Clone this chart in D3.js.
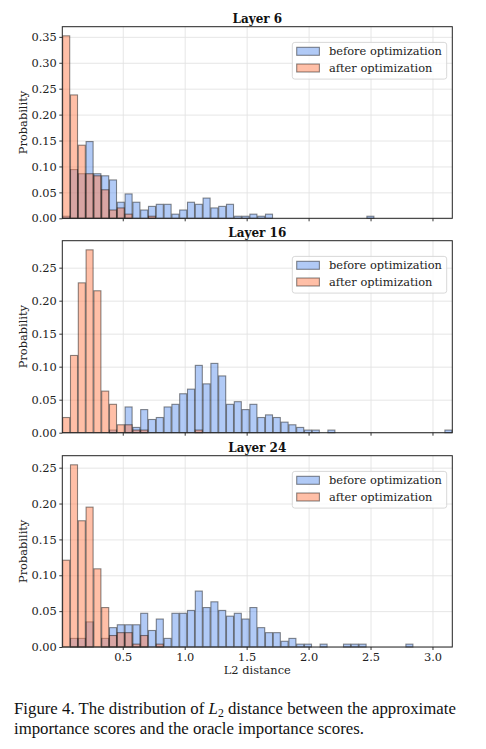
<!DOCTYPE html>
<html>
<head>
<meta charset="utf-8">
<script src="https://cdn.jsdelivr.net/npm/d3@7"></script>
<style>
  html, body { margin: 0; padding: 0; background: #fff; }
  svg { display: block; }
</style>
</head>
<body>
<svg id="chart" width="486" height="749"></svg>
<script>
// ---------- DATA ----------
const binMin = 0.012;
const binMax = 3.16;
const nBins = 50;

const layerTitles = ["Layer 6", "Layer 16", "Layer 24"];
const seriesNames = ["before optimization", "after optimization"];

const layer6Before = [0.004,0.094,0.086,0.148,0.086,0.082,0.074,0.031,0.047,0.031,
                      0.016,0.023,0.027,0.027,0.008,0.016,0.031,0.027,0.039,0.020,
                      0.023,0.027,0.004,0.004,0.008,0.004,0.008,0,0,0,
                      0,0,0,0,0,0,0,0,0,0.004,
                      0,0,0,0,0,0,0,0,0,0];
const layer6After  = [0.352,0.238,0.141,0.086,0.082,0.055,0.016,0.020,0.008,0,
                      0,0.004,0,0,0,0,0,0,0,0,
                      0,0,0,0,0,0,0,0,0,0,
                      0,0,0,0,0,0,0,0,0,0,
                      0,0,0,0,0,0,0,0,0,0];
const layer16Before = [0,0,0,0,0,0,0.004,0,0.039,0.008,
                       0.035,0.020,0.023,0.039,0.043,0.059,0.066,0.102,0.074,0.105,
                       0.086,0.043,0.047,0.035,0.043,0.023,0.027,0.023,0.016,0.012,
                       0.008,0.004,0.004,0,0.004,0,0,0,0,0,
                       0,0,0,0,0,0,0,0,0,0.004];
const layer16After  = [0.023,0.117,0.227,0.277,0.215,0.063,0.043,0.012,0.012,0.004,
                       0.004,0,0,0,0,0,0,0.004,0,0,
                       0,0,0,0,0,0,0,0,0,0,
                       0,0,0,0,0,0,0,0,0,0,
                       0,0,0,0,0,0,0,0,0,0];
const layer24Before = [0,0.012,0.012,0.035,0,0.012,0.027,0.031,0.031,0.031,
                       0.047,0.023,0.039,0.012,0.047,0.047,0.051,0.078,0.055,0.063,
                       0.051,0.043,0.047,0.039,0.055,0.027,0.020,0.020,0.008,0.012,
                       0.004,0.004,0,0.004,0,0,0.004,0.004,0.004,0,
                       0,0,0,0,0.004,0,0,0,0,0];
const layer24After  = [0.121,0.254,0.176,0.195,0.109,0.055,0.016,0.020,0.020,0.004,
                       0.016,0,0.004,0,0,0,0,0,0,0,
                       0,0,0,0,0,0,0,0,0,0,
                       0,0,0,0,0,0,0,0,0,0,
                       0,0,0,0,0,0,0,0,0,0];

const yTicks = [[0,0.05,0.10,0.15,0.20,0.25,0.30,0.35],
                [0,0.05,0.10,0.15,0.20,0.25],
                [0,0.05,0.10,0.15,0.20,0.25]];
const xTicks = [0.5,1.0,1.5,2.0,2.5,3.0];

// ---------- LAYOUT ----------
const panels = [
  {title: layerTitles[0], before: layer6Before,  after: layer6After,  top: 26.7,  bottom: 218.3, yt: yTicks[0], showX: false},
  {title: layerTitles[1], before: layer16Before, after: layer16After, top: 240.7, bottom: 432.7, yt: yTicks[1], showX: false},
  {title: layerTitles[2], before: layer24Before, after: layer24After, top: 455.7, bottom: 647.0, yt: yTicks[2], showX: true}
];
const left = 62.3, right = 452.3;
const serif = "'DejaVu Serif', serif";
const fs = 11.4;
const colBefore = "cornflowerblue";
const colAfter = "coral";

const svg = d3.select("#chart");
const x = d3.scaleLinear().domain([binMin, binMax]).range([left, right]);
const binW = (binMax - binMin) / nBins;
const rwidth = 0.9;

panels.forEach((p) => {
  const ymax = d3.max(p.before.concat(p.after)) * 1.05;
  const y = d3.scaleLinear().domain([0, ymax]).range([p.bottom, p.top]);
  const g = svg.append("g");

  // grid
  g.append("g").attr("transform", `translate(0,${p.bottom})`)
    .call(d3.axisBottom(x).tickValues(xTicks).tickSize(-(p.bottom - p.top)).tickFormat(""))
    .call(s => s.select(".domain").remove())
    .call(s => s.selectAll("line").attr("stroke", "#e3e3e3").attr("stroke-width", 0.9));
  g.append("g").attr("transform", `translate(${left},0)`)
    .call(d3.axisLeft(y).tickValues(p.yt).tickSize(-(right - left)).tickFormat(""))
    .call(s => s.select(".domain").remove())
    .call(s => s.selectAll("line").attr("stroke", "#e3e3e3").attr("stroke-width", 0.9));

  // bars
  const drawSeries = (vals, col) => {
    const data = vals.map((v, i) => ({i, v})).filter(d => d.v > 0);
    g.append("g").selectAll("rect").data(data).join("rect")
      .attr("x", d => x(binMin + d.i * binW + binW * (1 - rwidth) / 2))
      .attr("width", d => x(binMin + binW * rwidth) - x(binMin))
      .attr("y", d => y(d.v))
      .attr("height", d => y(0) - y(d.v))
      .attr("fill", col).attr("fill-opacity", 0.5)
      .attr("stroke", "#000").attr("stroke-opacity", 0.45).attr("stroke-width", 1.1);
  };
  drawSeries(p.before, colBefore);
  drawSeries(p.after, colAfter);

  // axes
  const ya = g.append("g").attr("transform", `translate(${left},0)`)
    .call(d3.axisLeft(y).tickValues(p.yt).tickSize(3).tickPadding(2.5).tickFormat(d3.format(".2f")));
  ya.select(".domain").remove();
  ya.selectAll("text").attr("font-family", serif).attr("font-size", fs).attr("fill", "#222");
  ya.selectAll("line").attr("stroke", "#222").attr("stroke-width", 0.9);

  const xa = g.append("g").attr("transform", `translate(0,${p.bottom})`)
    .call(d3.axisBottom(x).tickValues(xTicks).tickSize(3).tickPadding(2.5)
      .tickFormat(p.showX ? d3.format(".1f") : ""));
  xa.select(".domain").remove();
  xa.selectAll("text").attr("font-family", serif).attr("font-size", fs).attr("fill", "#222");
  xa.selectAll("line").attr("stroke", "#222").attr("stroke-width", 0.9);

  // frame
  g.append("rect").attr("x", left).attr("y", p.top)
    .attr("width", right - left).attr("height", p.bottom - p.top)
    .attr("fill", "none").attr("stroke", "#222").attr("stroke-width", 1);

  // title
  g.append("text").attr("x", (left + right) / 2).attr("y", p.top - 4.2)
    .attr("text-anchor", "middle").attr("font-family", serif)
    .attr("font-weight", "bold").attr("font-size", 12).attr("fill", "#111")
    .text(p.title);

  // y label
  g.append("text")
    .attr("transform", `translate(27,${(p.top + p.bottom) / 2}) rotate(-90)`)
    .attr("text-anchor", "middle").attr("font-family", serif)
    .attr("font-size", fs).attr("fill", "#222").text("Probability");

  // legend
  const lx = 292.3, ly = p.top + 15.7;
  const lg = g.append("g");
  lg.append("rect").attr("x", lx).attr("y", ly).attr("width", 154.4).attr("height", 36.7)
    .attr("rx", 2.5).attr("fill", "#fff").attr("fill-opacity", 0.8)
    .attr("stroke", "#d4d4d4").attr("stroke-width", 0.9);
  [[seriesNames[0], colBefore], [seriesNames[1], colAfter]].forEach(([name, col], k) => {
    const ry = ly + 4.9 + k * 16.7;
    lg.append("rect").attr("x", lx + 4.4).attr("y", ry).attr("width", 22.7).attr("height", 8)
      .attr("fill", col).attr("fill-opacity", 0.5)
      .attr("stroke", "#000").attr("stroke-opacity", 0.45).attr("stroke-width", 1.1);
    lg.append("text").attr("x", lx + 36.7).attr("y", ry + 7.6)
      .attr("font-family", serif).attr("font-size", fs).attr("fill", "#222").text(name);
  });
});

// x axis label
svg.append("text").attr("x", (left + right) / 2).attr("y", 674)
  .attr("text-anchor", "middle").attr("font-family", serif)
  .attr("font-size", fs).attr("fill", "#222").text("L2 distance");

// caption
const cap = svg.append("g").attr("font-family", "'Liberation Serif', 'Times New Roman', serif")
  .attr("font-size", 16.8).attr("fill", "#111");
const l1 = cap.append("text").attr("x", 14).attr("y", 714);
l1.append("tspan").text("Figure 4. The distribution of ");
l1.append("tspan").attr("font-style", "italic").text("L");
l1.append("tspan").attr("font-size", 11.8).attr("dy", 3).text("2");
l1.append("tspan").attr("dy", -3).text(" distance between the approximate");
cap.append("text").attr("x", 14).attr("y", 734)
  .text("importance scores and the oracle importance scores.");
</script>
</body>
</html>
